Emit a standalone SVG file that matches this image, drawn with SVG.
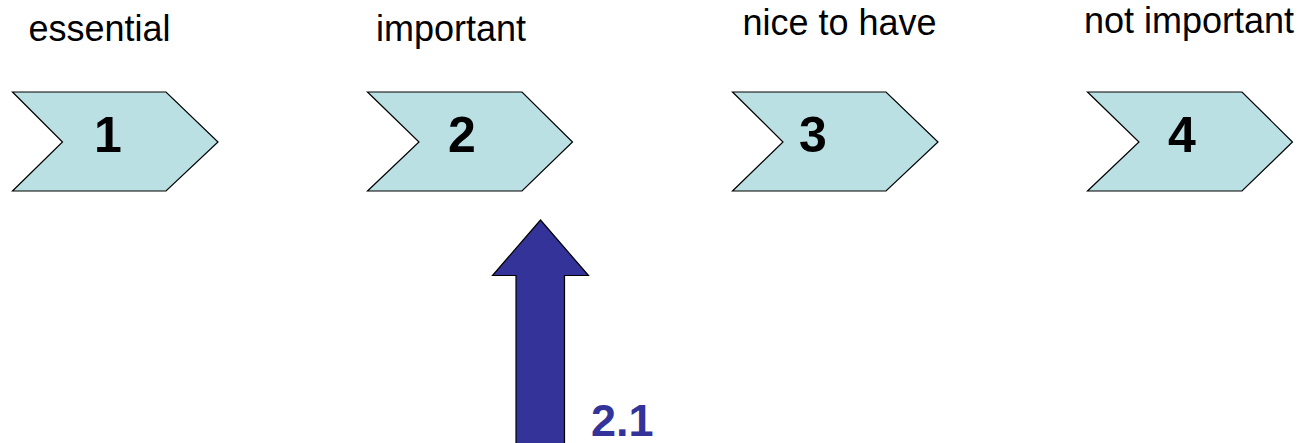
<svg xmlns="http://www.w3.org/2000/svg" width="1305" height="443" viewBox="0 0 1305 443">
<style>
.chev{fill:#BBE0E3;stroke:#000;stroke-width:1.2;stroke-linejoin:miter}
.lbl{font-family:"Liberation Sans",Arial,sans-serif;font-size:36px;fill:#000;text-anchor:middle}
.num{font-family:"Liberation Sans",Arial,sans-serif;font-size:50px;font-weight:bold;fill:#000;text-anchor:middle}
</style>
<rect width="1305" height="443" fill="#fff"/>
<g id="node1">
<polygon class="chev" points="12.5,92 166,92 218,142 166,191 12.5,191 62.5,142"/>
<text class="num" x="108" y="152">1</text>
<text class="lbl" x="99.5" y="41">essential</text>
</g>
<g id="node2">
<polygon class="chev" points="367.5,92 522,92 572.5,142 522,191 367.5,191 419,142"/>
<text class="num" x="462" y="152">2</text>
<text class="lbl" x="451" y="41">important</text>
</g>
<g id="node3">
<polygon class="chev" points="732.5,92 886,92 938,142 886,191 732.5,191 783,142"/>
<text class="num" x="813" y="152">3</text>
<text class="lbl" x="839.5" y="35">nice to have</text>
</g>
<g id="node4">
<polygon class="chev" points="1087.5,92 1242,92 1292.5,142 1242,191 1087.5,191 1139,142"/>
<text class="num" x="1182" y="152">4</text>
<text class="lbl" x="1189" y="33">not important</text>
</g>
<g id="connectors">
<polygon points="540.5,220 588.5,275.5 564.5,275.5 564.5,445 516,445 516,275.5 492.5,275.5" fill="#333399" stroke="#000" stroke-width="1.2"/>
<text x="591" y="436" font-family="Liberation Sans,Arial,sans-serif" font-size="45px" font-weight="bold" fill="#333399">2.1</text>
</g>
</svg>
